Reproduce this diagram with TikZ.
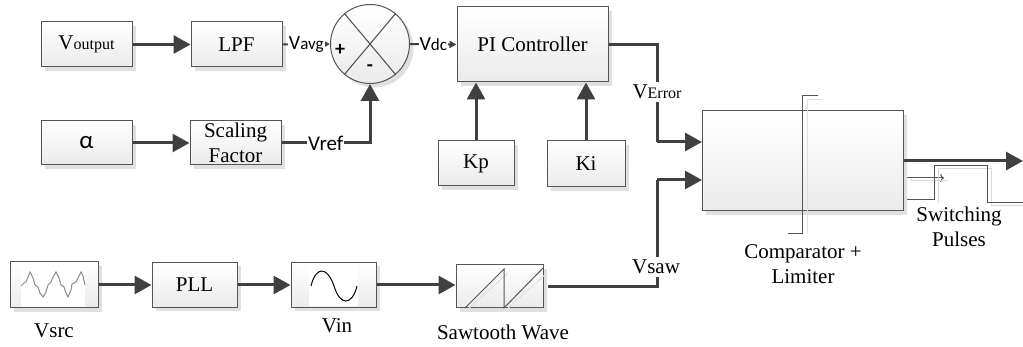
\documentclass[tikz,border=0pt]{standalone}
\usepackage{fontspec}
\setmainfont{Liberation Serif}
\newfontfamily\labfont{Carlito}
\usepackage{tikz}
\usetikzlibrary{arrows.meta}
\usetikzlibrary{shadows}
\definecolor{wire}{HTML}{404040}
\definecolor{edge}{HTML}{555555}
\newcommand{\bigtxt}{\fontsize{21}{24}\selectfont}
\newcommand{\smalltxt}[1]{{\fontsize{16}{16}\selectfont #1}}
\newcommand{\sanstxt}[2]{{\labfont\fontsize{20}{20}\selectfont #1\fontsize{17}{17}\selectfont #2}}

\begin{document}
\begin{tikzpicture}[
		x=1pt, y=-1pt,
		font=\bigtxt,
		t/.style = {rectangle, draw=edge, line width=1pt, top color=white, bottom color=black!8,
			drop shadow={shadow xshift=4pt, shadow yshift=-4pt, fill=black!12, opacity=1},
			inner sep=0pt, align=center},
		r/.style = {-{Triangle[length=17pt, width=18pt]}, draw=wire, line width=3pt},
		w/.style = {draw=wire, line width=3pt},
		s/.style = {-{Triangle[length=7pt, width=7pt]}, draw=wire, line width=2pt},
		l/.style = {fill=white, inner sep=1pt},
		f/.style = {inner sep=0pt, text=black},
		g/.style = {draw=edge, line width=1pt}
		]
		\useasboundingbox (0,0) rectangle (1023,347);
		
		%Nodes
		\node[t, minimum width=91pt, minimum height=45pt]	(vout)	at	(86.5, 44.5)	{V\smalltxt{output}};
		\node[t, minimum width=91pt, minimum height=45pt]	(lpf)	at	(236.5, 44.5)	{LPF};
		\node[t, minimum width=91pt, minimum height=44pt]	(alpha)	at	(86.5, 143)		{\labfont\fontsize{25}{25}\selectfont α};
		\node[t, minimum width=91pt, minimum height=44pt, font=\fontsize{21}{25}\selectfont]	(scale)	at	(235.5, 143)	{Scaling\\Factor};
		\node[t, circle, minimum size=79pt]	(sum)	at	(370, 44)	{};
		\node[t, minimum width=151pt, minimum height=75pt]	(pi)	at	(532.5, 44.5)	{PI Controller};
		\node[t, minimum width=76pt, minimum height=45pt]	(kp)	at	(476, 163.5)	{Kp};
		\node[t, minimum width=78pt, minimum height=46pt]	(ki)	at	(586, 164)		{Ki};
		\node[t, minimum width=88pt, minimum height=46pt]	(src)	at	(54, 285)		{};
		\node[t, minimum width=85pt, minimum height=45pt]	(pll)	at	(194.5, 285)	{PLL};
		\node[t, minimum width=85pt, minimum height=45pt]	(vin)	at	(333.5, 285)	{};
		\node[t, minimum width=87pt, minimum height=43pt]	(saw)	at	(499.5, 286.5)	{};
		\node[t, minimum width=201pt, minimum height=100pt]	(cmp)	at	(802.5, 161)	{};
		
		%Free ends
		\coordinate	(bus1)	at	(657, 142);
		\coordinate	(in1)	at	(702, 142);
		\coordinate	(bus2)	at	(657, 180);
		\coordinate	(in2)	at	(702, 180);
		\coordinate	(out)	at	(1023, 161);
		
		%Lines
		\draw[r]	(vout.east)		to	(lpf.west);
		\draw[s]	(lpf.east)		to	node[l, font=\normalsize]	(avg)	{\sanstxt{V}{avg}}	(sum.west);
		\draw[s]	(sum.east)		to	node[l, font=\normalsize]	(dc)	{\sanstxt{V}{dc}}	(pi.west);
		\draw[r]	(alpha.east)	to	(scale.west);
		\draw[r]	(scale.east)	-|	node[pos=0.25, l]	(ref)	{\labfont\fontsize{21}{21}\selectfont Vref}	(sum.south);
		\draw[r]	(kp.north)		to	(kp.north |- pi.south);
		\draw[r]	(ki.north)		to	(ki.north |- pi.south);
		\draw[w]	(pi.east)		-|	(bus1);
		\draw[r]	(bus1)			to	(in1);
		\draw[w, shorten <=4pt]	(saw.east)	-|	(bus2);
		\draw[r]	(bus2)			to	(in2);
		\draw[r]	(src.east)		to	(pll.west);
		\draw[r]	(pll.east)		to	(vin.west);
		\draw[r]	(vin.east)		to	(saw.west |- vin.east);
		\draw[r]	(cmp.east)		to	(out);
		
		%Labels
		\node[l, inner ysep=3pt]	(verr)	at	(657, 92)	{V\smalltxt{Error}};
		\node[l, inner ysep=3pt]	(vsaw)	at	(656, 267)	{Vsaw};
		\node[f]	(lsrc)	at	(54, 331)	{Vsrc};
		\node[f]	(lvin)	at	(337, 326)	{Vin};
		\node[f]	(lsaw)	at	(503, 332)	{Sawtooth Wave};
		\node[f, align=center, font=\fontsize{21}{25}\selectfont]	(lcmp)	at	(803, 264.5)	{Comparator +\\Limiter};
		\node[f, align=center, font=\fontsize{21}{25}\selectfont]	(lsw)	at	(959, 227)	{Switching\\Pulses};
		\node[f, font=\labfont\bfseries\fontsize{20}{20}\selectfont]	(plus)	at	(340, 50)	{+};
		\node[f, font=\labfont\bfseries\fontsize{20}{20}\selectfont]	(minus)	at	(370, 68)	{-};
		
		%Summing cross
		\draw[g, draw=black!70]	(sum.130)	--	(sum.310);
		\draw[g, draw=black!70]	(sum.50)	--	(sum.230);
		
		%Wave pictures
		\fill[white]	(21, 263)	rectangle	(85, 307);
		\draw[black!45, line width=1pt]	plot coordinates {(21,286) (24,283) (26,282) (28,277) (30,272) (33,278) (35,285) (38,287) (40,293) (43,297) (46,292) (48,285) (51,282) (53,277) (56,272) (59,278) (61,285) (64,287) (66,293) (68,297) (71,290) (72,284) (76,282) (79,276) (81,272) (83,276) (85,285)};
		\fill[white]	(309, 263)	rectangle	(358, 306);
		\draw[black, line width=1pt]	(311, 286) .. controls (316, 266) and (327, 266) .. (334, 286) .. controls (340, 306) and (352, 306) .. (357, 286);
		\draw[black!12, line width=1pt]	(469, 308) -- (508, 273) (508, 308) -- (547, 273);
		\draw[g]	(465, 308) -- (504, 269) -- (504, 308) -- (543, 268);
		
		%Comparator marks
		\draw[black!12, line width=1pt]	(807, 234) -- (807, 100) -- (822, 100);
		\draw[g]	(788, 234) -- (802, 234) -- (802, 96) -- (818, 96);
		\draw[edge, line width=1pt, ->]	(907, 178) -- (944, 178);
		\draw[black!15, line width=1pt]	(910, 181) -- (948, 181);
		\draw[black!15, line width=1pt]	(938, 203) -- (938, 169) -- (991, 169) -- (991, 206) -- (1023, 206);
		\draw[g]	(907, 200) -- (934, 200) -- (934, 165.5) -- (987, 165.5) -- (987, 203) -- (1023, 203);
	\end{tikzpicture}
\end{document}
